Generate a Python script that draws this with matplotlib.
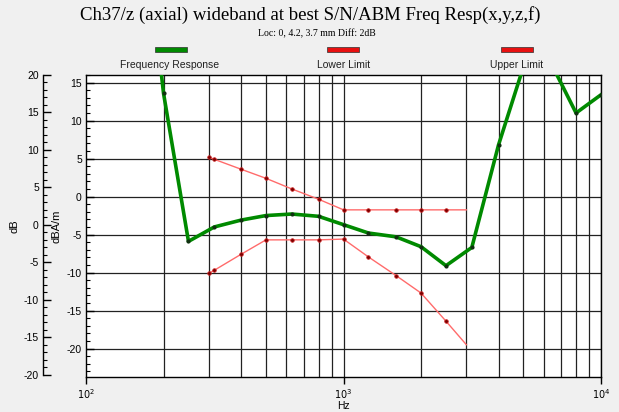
import numpy as np
import matplotlib.pyplot as plt
from matplotlib.patches import Rectangle
from matplotlib.ticker import MultipleLocator, FixedLocator, NullLocator

plt.rcParams["font.family"] = ["Liberation Sans", "DejaVu Sans"]
plt.rcParams["axes.unicode_minus"] = False

# frequency response (third octave bands)
resp_freq = [160, 200, 250, 315, 400, 500, 630, 800, 1000, 1250, 1600, 2000,
             2500, 3150, 4000, 5000, 6300, 8000, 10000]
resp_db = [43, 13.6, -5.9, -4.0, -3.1, -2.5, -2.3, -2.6, -3.7, -4.8, -5.3, -6.6,
           -9.1, -6.7, 6.8, 17.1, 18.0, 11.0, 13.4]

# limit lines
lim_freq = [300, 315, 400, 500, 630, 800, 1000, 1250, 1600, 2000, 2500, 3000]
upper_db = [5.2, 4.9, 3.6, 2.4, 1.0, -0.35, -1.75, -1.75, -1.75, -1.75, -1.75, -1.75]
lower_db = [-10.1, -9.7, -7.6, -5.7, -5.7, -5.7, -5.6, -7.95, -10.4, -12.7, -16.4, -19.5]

title = "Ch37/z (axial) wideband at best S/N/ABM Freq Resp(x,y,z,f)"
subtitle = "Loc: 0, 4.2, 3.7 mm Diff: 2dB"
legend_names = ["Frequency Response", "Lower Limit", "Upper Limit"]

W, H = 619, 412
bg = "#f0f0f0"
green = "#008a00"
red = "#ff6b6b"

fig = plt.figure(figsize=(W / 100, H / 100), dpi=100, facecolor=bg)
ax = fig.add_axes([86 / W, 1 - 377 / H, (601 - 86) / W, (377 - 75) / H])
ax.set_facecolor("white")

ax.set_xscale("log")
ax.set_xlim(100, 10000)
ax.set_ylim(-23.75, 16)

# grid: horizontal every 5 dB, vertical at every 1-2-..-9 line
for v in np.arange(-20, 16, 5):
    ax.axhline(v, color="#222222", lw=0.9, zorder=1)
for dec in [100, 1000]:
    for m in range(2, 11):
        ax.axvline(dec * m, color="#222222", lw=0.9, zorder=1)

ax.plot(lim_freq, upper_db, color=red, lw=1.0, zorder=3)
ax.plot(lim_freq[:-1], upper_db[:-1], ls="none", marker="o", ms=2.6,
        mfc="#7a0000", mec="#cc2020", mew=0.5, zorder=4)
ax.plot(lim_freq, lower_db, color=red, lw=1.0, zorder=3)
ax.plot(lim_freq[:-1], lower_db[:-1], ls="none", marker="o", ms=2.6,
        mfc="#7a0000", mec="#cc2020", mew=0.5, zorder=4)
ax.plot(resp_freq, resp_db, color=green, lw=2.6, zorder=5,
        marker="o", ms=2.0, mfc="#103010", mec="#103010")

for s in ax.spines.values():
    s.set_color("black")
    s.set_linewidth(1.0)

ax.xaxis.set_major_locator(FixedLocator([100, 1000, 10000]))
ax.xaxis.set_minor_locator(NullLocator())
ax.set_xticklabels([r"$10^2$", r"$10^3$", r"$10^4$"])
ax.tick_params(axis="x", which="major", direction="out", length=5, width=1,
               labelsize=7, pad=2, colors="black")
ax.set_xlabel("Hz", fontsize=7.5, labelpad=0)

ax.yaxis.set_major_locator(FixedLocator([15, 10, 5, 0, -5, -10, -15, -20]))
ax.yaxis.set_minor_locator(MultipleLocator(1))
ax.tick_params(axis="y", which="major", direction="in", length=6, width=1,
               labelsize=7.5, pad=3)
ax.tick_params(axis="y", which="minor", direction="in", length=3, width=0.8)
ax.set_ylabel("dBA/m", fontsize=8, labelpad=4)

# outer dB axis
ax2 = ax.twinx()
ax2.set_ylim(-20.27, 20)
ax2.spines["right"].set_visible(False)
ax2.spines["top"].set_visible(False)
ax2.spines["bottom"].set_visible(False)
ax2.spines["left"].set_visible(True)
ax2.spines["left"].set_position(("outward", 43 * 0.72))
ax2.spines["left"].set_bounds(-20, 20)
ax2.spines["left"].set_linewidth(1.0)
ax2.yaxis.set_ticks_position("left")
ax2.yaxis.set_label_position("left")
ax2.yaxis.set_major_locator(MultipleLocator(5))
ax2.yaxis.set_minor_locator(MultipleLocator(1))
ax2.tick_params(axis="y", which="major", direction="in", length=6, width=1,
                labelsize=7.5, pad=3)
ax2.tick_params(axis="y", which="minor", direction="in", length=3, width=0.8)
ax2.set_ylabel("dB", fontsize=8, labelpad=3)

# titles
fig.text(0.5 * (81 + 539) / W, 1 - 15 / H, title, ha="center", va="center",
         family="Liberation Serif", fontsize=13.5)
fig.text(317 / W, 1 - 34 / H, subtitle, ha="center", va="center",
         family="Liberation Serif", fontsize=7)

# legend row
bar_x = [171, 343, 516.5]
bar_colors = [green, "#e81010", "#e81010"]
text_x = [170, 344, 517]
for bx, bc, tx, name in zip(bar_x, bar_colors, text_x, legend_names):
    fig.add_artist(Rectangle(((bx - 16) / W, 1 - 52 / H), 32 / W, 5 / H,
                             transform=fig.transFigure, facecolor=bc,
                             edgecolor="#303030", lw=0.5))
    fig.text(tx / W, 1 - 65 / H, name, ha="center", va="center",
             fontsize=7.5, color="#202020")

fig.savefig("out.png", dpi=100, facecolor=bg)
